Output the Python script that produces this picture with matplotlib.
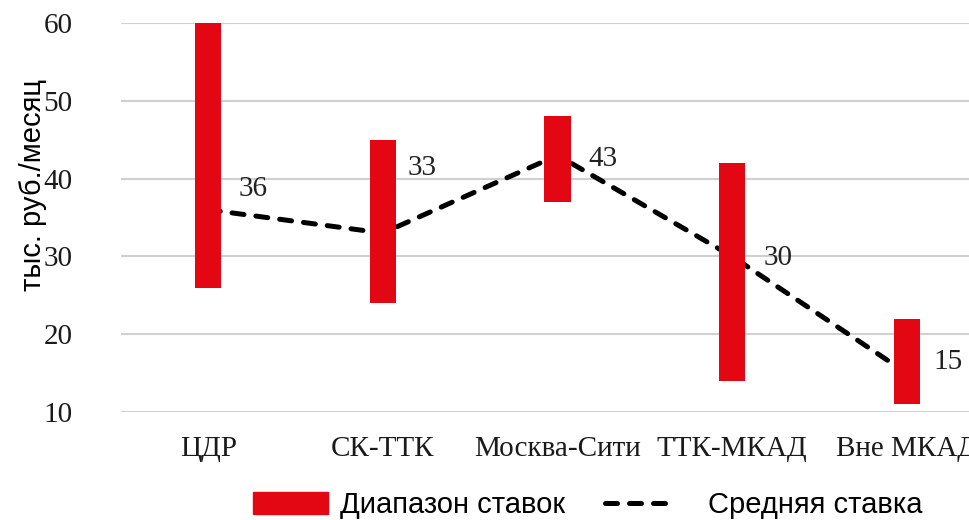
import numpy as np
import matplotlib
matplotlib.use("Agg")
import matplotlib.pyplot as plt
from matplotlib.patches import Patch
from matplotlib.lines import Line2D

categories = ["ЦДР", "СК-ТТК", "Москва-Сити", "ТТК-МКАД", "Вне МКАД"]
range_low = [26, 24, 37, 14, 11]
range_high = [60, 45, 48, 42, 22]
avg_rate = [36, 33, 43, 30, 15]
y_ticks = [10, 20, 30, 40, 50, 60]

# label offsets in points (style only)
label_offsets = [(32, 15), (28, 47), (33, -3), (33, -1), (30, 8)]

RED = "#e30613"
FS = 21
LW = 3.6
DASH = (0, (2.4, 2.4))
fig = plt.figure(figsize=(9.69, 5.2), dpi=100)
ax = fig.add_axes([121/969, 1-412/520, (994-121)/969, (412-23)/520])

x = np.arange(len(categories))
ax.plot(x, avg_rate, color="black", lw=LW, linestyle=DASH,
        dash_capstyle="round", zorder=2)
ax.bar(x, np.array(range_high) - np.array(range_low), bottom=range_low,
       width=0.15, color=RED, zorder=3)

serif = "Liberation Serif"
for xi, v, off in zip(x, avg_rate, label_offsets):
    ax.annotate(str(v), (xi, v), xytext=off, textcoords="offset points",
                ha="center", va="center", fontsize=FS, family=serif,
                color="#222222", zorder=4)

ax.set_xlim(-0.5, len(categories) - 0.5)
ax.set_ylim(10, 60)
ax.set_yticks(y_ticks)
ax.set_xticks(x)
ax.set_xticklabels(categories, family=serif, fontsize=FS)
ax.set_yticklabels([str(t) for t in y_ticks], family=serif, fontsize=FS)
ax.tick_params(axis="both", length=0, colors="#1a1a1a")
ax.tick_params(axis="y", pad=35)
ax.tick_params(axis="x", pad=17)
ax.grid(axis="y", color="#d0d0d0", lw=1.5, zorder=0)
for s in ax.spines.values():
    s.set_visible(False)
ax.set_axisbelow(True)
fig.text(33/969, 1-185/520, "тыс. руб./месяц", rotation=90, ha="center",
         va="center", fontsize=FS, family="Liberation Sans")

leg1 = fig.legend([Patch(color=RED)], ["Диапазон ставок"],
                  loc="center left", bbox_to_anchor=(253/969, 1-505/520),
                  frameon=False, handlelength=2.57, handleheight=0.8,
                  handletextpad=0.41, borderaxespad=0, borderpad=0,
                  prop={"family": "Liberation Sans", "size": FS})
leg2 = fig.legend([Line2D([], [], color="black", lw=LW,
                          linestyle=DASH, dash_capstyle="round")],
                  ["Средняя ставка"],
                  loc="center left", bbox_to_anchor=(605/969, 1-505/520),
                  frameon=False, handlelength=2.15, handletextpad=1.37,
                  borderaxespad=0, borderpad=0,
                  prop={"family": "Liberation Sans", "size": FS})

fig.savefig("out.png", dpi=100)
